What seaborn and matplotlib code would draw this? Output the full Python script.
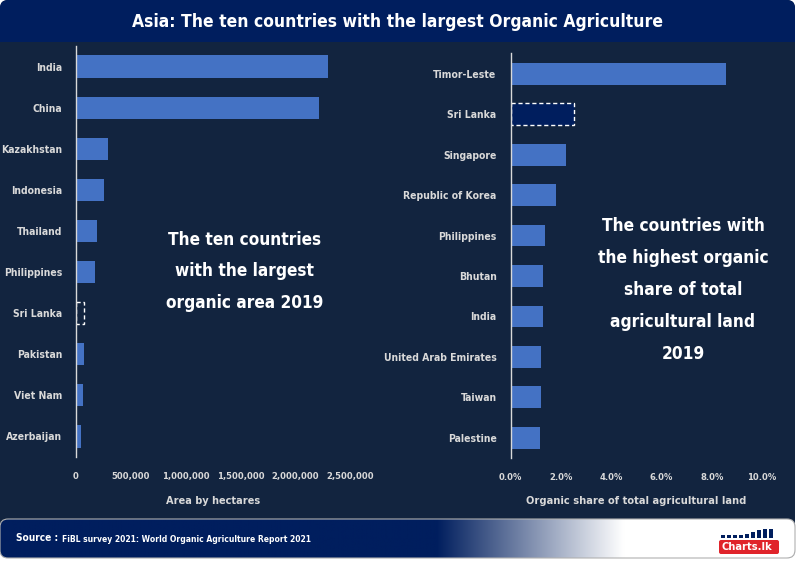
import numpy as np
import pandas as pd
import matplotlib
matplotlib.use("Agg")
import matplotlib.pyplot as plt
import seaborn as sns
from matplotlib import font_manager
from matplotlib.patches import FancyBboxPatch, Rectangle
from matplotlib.transforms import IdentityTransform
from matplotlib.ticker import FuncFormatter, PercentFormatter

# ---------------- data ----------------
area_countries = ["India", "China", "Kazakhstan", "Indonesia", "Thailand",
                  "Philippines", "Sri Lanka", "Pakistan", "Viet Nam", "Azerbaijan"]
area_hectares = [2300000, 2220000, 295000, 252000, 190000,
                 172000, 75000, 72000, 64000, 45000]

share_countries = ["Timor-Leste", "Sri Lanka", "Singapore", "Republic of Korea",
                   "Philippines", "Bhutan", "India", "United Arab Emirates",
                   "Taiwan", "Palestine"]
share_values = [0.0857, 0.0251, 0.0219, 0.0180, 0.0137,
                0.0129, 0.0129, 0.0121, 0.0121, 0.0117]

area_ticks = [0, 500000, 1000000, 1500000, 2000000, 2500000]
share_ticks = [0.0, 0.02, 0.04, 0.06, 0.08, 0.10]

highlight = "Sri Lanka"

title = "Asia: The ten countries with the largest Organic Agriculture"
left_note = ["The ten countries", "with the largest", "organic area 2019"]
right_note = ["The countries with", "the highest organic", "share of total",
              "agricultural land", "2019"]
left_xlabel = "Area by hectares"
right_xlabel = "Organic share of total agricultural land"
source_head = "Source :"
source_text = "FiBL survey 2021: World Organic Agriculture Report 2021"

# ---------------- style ----------------
BG = "#12243f"
NAVY = "#001e5e"
BAR = "#4472c4"
TXT = "#d9d9d9"

sns.set_theme(style="white")
names = {f.name for f in font_manager.fontManager.ttflist}
if "Liberation Sans Narrow" in names:
    FONT, STRETCH = "Liberation Sans Narrow", "normal"
else:
    FONT, STRETCH = "DejaVu Sans", "condensed"
plt.rcParams["font.family"] = [FONT, "DejaVu Sans"]
plt.rcParams["font.stretch"] = STRETCH
plt.rcParams["font.weight"] = "bold"
plt.rcParams["axes.labelweight"] = "bold"

W, H = 797, 561
fig = plt.figure(figsize=(W / 100, H / 100), dpi=100, facecolor="white")
renderer = fig.canvas.get_renderer()


def size_for(s, target):
    t = fig.text(0, 0, s, fontsize=10, fontweight="bold")
    w = t.get_window_extent(renderer).width
    t.remove()
    return 10 * target / w


def Y(y):  # top-based pixel -> bottom-based pixel
    return H - y


# background panel
fig.patches.append(FancyBboxPatch((0, Y(558)), 795, 558,
                                  boxstyle="round,pad=0,rounding_size=8",
                                  transform=IdentityTransform(),
                                  facecolor=BG, edgecolor="none", zorder=-3))
# title band
fig.patches.append(FancyBboxPatch((0, Y(42)), 795, 42,
                                  boxstyle="round,pad=0,rounding_size=8",
                                  transform=IdentityTransform(),
                                  facecolor=NAVY, edgecolor="none", zorder=-2))
fig.patches.append(Rectangle((0, Y(42)), 795, 12, transform=IdentityTransform(),
                             facecolor=NAVY, edgecolor="none", zorder=-2))
fig.text(398 / W, 1 - 22 / H, title, color="white",
         fontsize=size_for(title, 526), ha="center", va="center")

# ---------------- left chart ----------------
ax1 = fig.add_axes([76 / W, 1 - 457 / H, 274 / W, 411 / H])
sns.barplot(x=area_hectares, y=area_countries, orient="h", color=BAR,
            saturation=1, width=0.54, linewidth=0, edgecolor="none", ax=ax1)
ax1.set_xlim(0, 2500000)
ax1.set_xticks(area_ticks)
ax1.xaxis.set_major_formatter(FuncFormatter(lambda v, p: f"{v:,.0f}"))

# ---------------- right chart ----------------
ax2 = fig.add_axes([510.5 / W, 1 - 458 / H, 251.5 / W, 404.5 / H])
sns.barplot(x=share_values, y=share_countries, orient="h", color=BAR,
            saturation=1, width=0.54, linewidth=0, edgecolor="none", ax=ax2)
ax2.set_xlim(0, 0.10)
ax2.set_xticks(share_ticks)
ax2.xaxis.set_major_formatter(PercentFormatter(1.0, decimals=1))

ytick_size = size_for("United Arab Emirates", 104) * 1.08
xtick_sizes = [size_for("2,500,000", 47) * 1.02, size_for("10.0%", 28) * 1.05]

for ax, cats, fill, xl, xw, xs_ in ((ax1, area_countries, BG, left_xlabel, 94, xtick_sizes[0]),
                                    (ax2, share_countries, NAVY, right_xlabel, 217, xtick_sizes[1])):
    ax.set_facecolor("none")
    for p, c in zip(ax.patches, cats):
        p.set_edgecolor("none")
        p.set_linewidth(0)
        if c == highlight:
            p.set_facecolor(fill)
            p.set_edgecolor("white")
            p.set_linestyle((0, (3, 2)))
            p.set_linewidth(1.0)
    for s in ("top", "right", "bottom"):
        ax.spines[s].set_visible(False)
    ax.spines["left"].set_color(TXT)
    ax.spines["left"].set_linewidth(1.0)
    ax.tick_params(axis="both", length=0, colors=TXT)
    ax.tick_params(axis="y", pad=10, labelsize=ytick_size)
    ax.tick_params(axis="x", pad=11, labelsize=xs_)
    ax.set_ylabel("")
    ax.set_xlabel(xl, color=TXT, fontsize=size_for(xl, xw), fontweight="bold")
    ax.xaxis.set_label_coords(0.5, -0.095)

# annotations
ls = size_for(left_note[0], 153)
for i, line in enumerate(left_note):
    fig.text(245 / W, 1 - (240 + 31.5 * i) / H, line, color="white",
             fontsize=ls, ha="center", va="center")
rs = size_for(right_note[0], 163)
for i, line in enumerate(right_note):
    fig.text(683 / W, 1 - (226 + 32 * i) / H, line, color="white",
             fontsize=rs, ha="center", va="center")

# ---------------- footer ----------------
axf = fig.add_axes([0, Y(558) / H, 795 / W, 39 / H])
axf.axis("off")
xs = np.linspace(0, 795, 800)
navy_rgb = np.array(matplotlib.colors.to_rgb(NAVY))
frac = np.clip((xs - 437) / (624 - 437), 0, 1)[:, None]
grad = (navy_rgb * (1 - frac) + np.ones(3) * frac)[None, :, :]
im = axf.imshow(grad, aspect="auto", extent=[0, 1, 0, 1])
axf.set_xlim(0, 1)
axf.set_ylim(0, 1)
clip = FancyBboxPatch((0, Y(558)), 795, 39,
                      boxstyle="round,pad=0,rounding_size=8",
                      transform=IdentityTransform(),
                      facecolor="none", edgecolor="#b0b0b0", linewidth=0.8)
clip.set_clip_on(False)
axf.add_patch(clip)
im.set_clip_path(clip)

fig.text(16 / W, 1 - 538 / H, source_head, color="white",
         fontsize=size_for(source_head, 42), ha="left", va="center")
fig.text(62 / W, 1 - 539 / H, source_text, color="white",
         fontsize=size_for(source_text, 249), ha="left", va="center")

# logo
fig.patches.append(FancyBboxPatch((719, Y(554)), 60, 14,
                                  boxstyle="round,pad=0,rounding_size=2",
                                  transform=IdentityTransform(),
                                  facecolor="#e0242b", edgecolor="none", zorder=5))
fig.text(747 / W, 1 - 547 / H, "Charts.lk", color="white",
         fontsize=size_for("Charts.lk", 50), ha="center", va="center", zorder=6)
for i, h in enumerate([3, 3, 3, 3, 4, 6, 8, 9, 9]):
    fig.patches.append(Rectangle((721 + i * 6, Y(538)), 4, h,
                                 transform=IdentityTransform(),
                                 facecolor=NAVY, edgecolor="none", zorder=5))

fig.savefig("out.png", dpi=100, facecolor="white")
